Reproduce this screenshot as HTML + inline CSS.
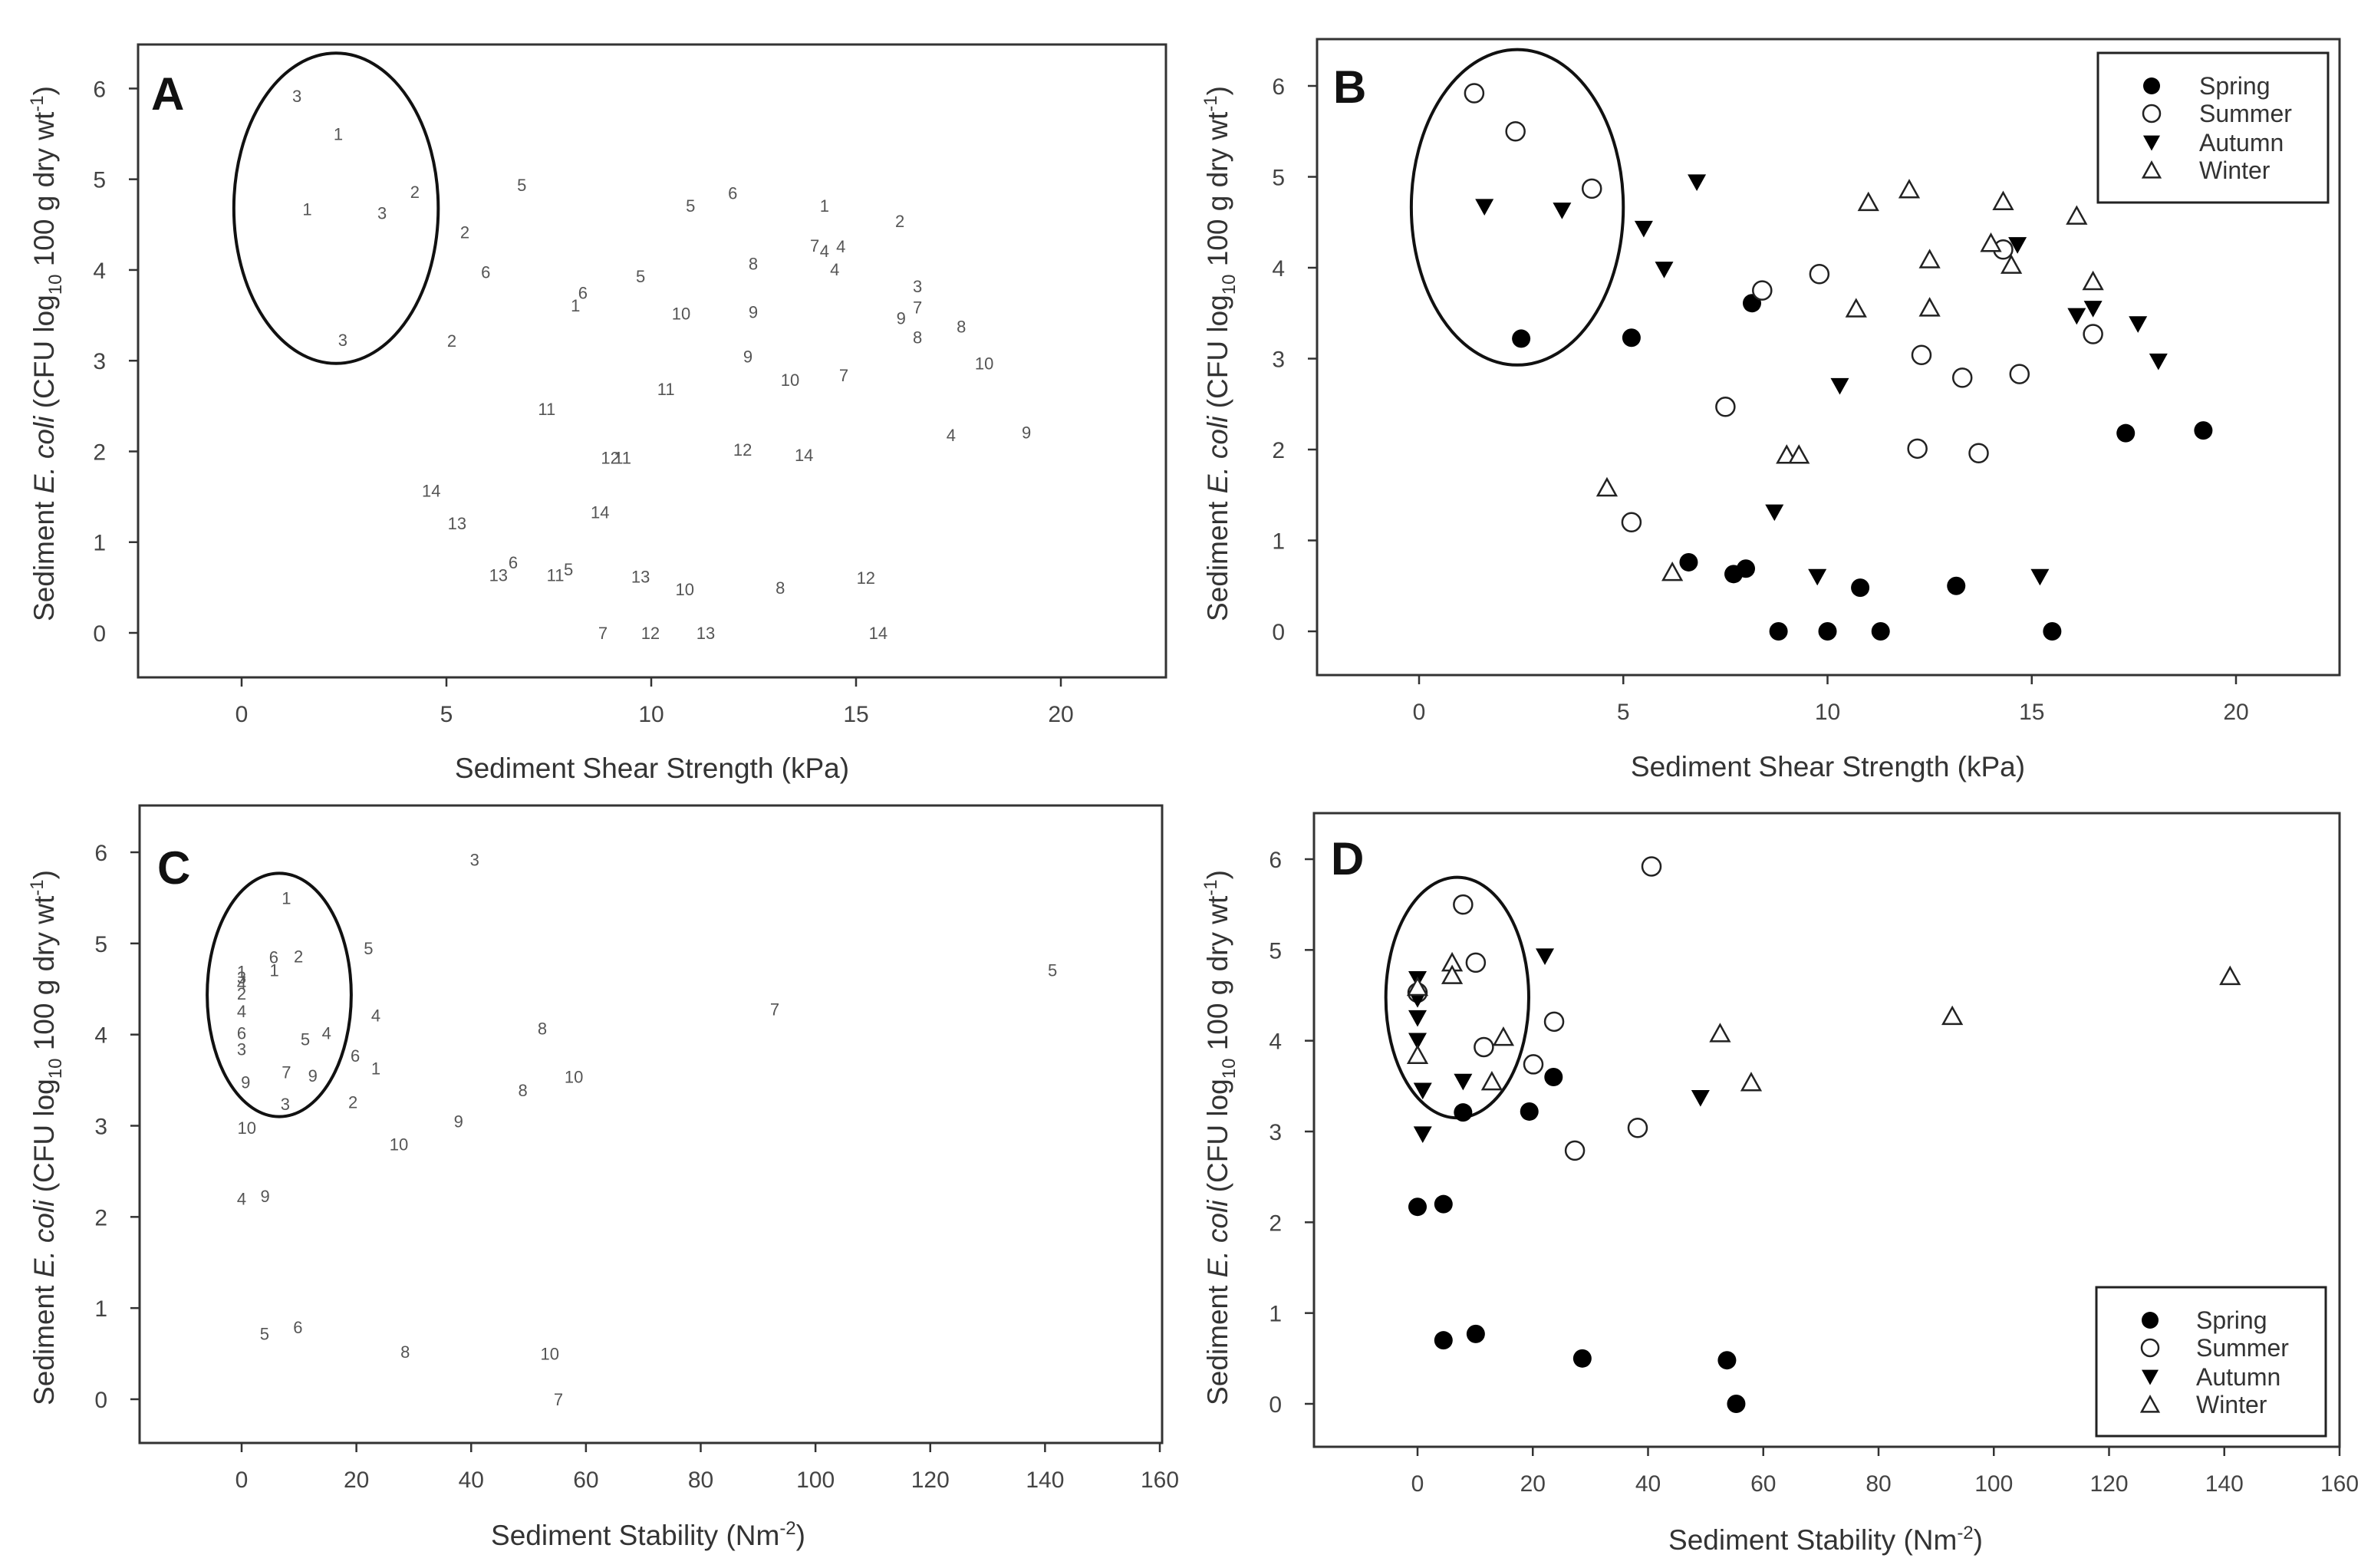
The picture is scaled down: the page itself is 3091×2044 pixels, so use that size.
<!DOCTYPE html>
<html><head><meta charset="utf-8"><style>
html,body{margin:0;padding:0;background:#fff}
svg{display:block;font-family:"Liberation Sans",sans-serif}
</style></head><body>
<svg id="fig" width="3091" height="2044" viewBox="0 0 3091 2044"></svg>
<script>
// Panel A: site-number labels vs shear strength
const aX=[1.35,2.36,4.23,1.6,3.43,6.84,5.45,5.96,9.74,8.33,8.15,10.73,2.47,5.13,10.96,11.99,14.23,16.07,13.99,14.23,14.63,12.49,14.48,12.49,16.5,16.5,16.1,16.5,17.57,18.13,12.36,13.39,14.7,10.36,7.45,17.32,19.16,12.23,13.73,9.0,9.3,4.63,5.26,8.75,6.27,6.63,7.66,7.98,9.74,10.82,13.15,15.24,8.82,9.98,11.33,15.54];
const aY=[5.92,5.5,4.86,4.67,4.63,4.94,4.42,3.98,3.93,3.75,3.61,3.52,3.23,3.22,4.71,4.85,4.71,4.54,4.27,4.21,4.26,4.07,4.01,3.54,3.82,3.59,3.47,3.26,3.38,2.97,3.05,2.79,2.84,2.69,2.47,2.18,2.21,2.02,1.96,1.93,1.93,1.57,1.21,1.33,0.64,0.78,0.64,0.70,0.62,0.48,0.50,0.61,0,0,0,0];
const aL=["3","1","2","1","3","5","2","6","5","6","1","10","3","2","5","6","1","2","7","4","4","8","4","9","3","7","9","8","8","10","9","10","7","11","11","4","9","12","14","12","11","14","13","14","13","6","11","5","13","10","8","12","7","12","13","14"];
// Panel B: seasons vs shear strength
const bSpringX=[2.5,5.2,8.15,6.6,7.7,8.0,10.8,13.15,8.8,10.0,11.3,15.5,17.3,19.2];
const bSpringY=[3.22,3.23,3.61,0.76,0.63,0.69,0.48,0.50,0,0,0,0,2.18,2.21];
const bSummerX=[1.35,2.36,4.23,8.4,9.8,12.3,13.3,14.7,16.5,14.3,7.5,12.2,13.7,5.2];
const bSummerY=[5.92,5.5,4.87,3.75,3.93,3.04,2.79,2.83,3.27,4.2,2.47,2.01,1.96,1.2];
const bAutumnX=[1.6,3.5,5.5,6.0,6.8,10.3,8.7,9.75,15.2,14.65,16.1,16.5,17.6,18.1];
const bAutumnY=[4.67,4.63,4.43,3.98,4.94,2.7,1.31,0.6,0.6,4.25,3.47,3.55,3.38,2.97];
const bWinterX=[4.6,6.2,9.0,9.3,10.7,11.0,12.0,12.5,12.5,14.0,14.3,14.5,16.1,16.5];
const bWinterY=[1.58,0.65,1.94,1.94,3.55,4.72,4.86,4.09,3.56,4.27,4.73,4.03,4.57,3.85];
// Panel C: labels vs stability
const cX=[40.6,7.8,5.6,9.9,5.7,22.1,0,0,0,0,0,23.4,0,0,11.1,14.8,19.8,23.4,7.8,12.4,0.7,7.6,19.4,0.9,27.4,37.8,49,52.4,57.9,92.9,141.3,0,4.1,4,9.8,28.5,53.7,55.2];
const cY=[5.92,5.5,4.85,4.86,4.71,4.95,4.69,4.63,4.56,4.45,4.26,4.21,4.02,3.84,3.95,4.02,3.77,3.63,3.59,3.55,3.48,3.24,3.26,2.98,2.8,3.05,3.39,4.07,3.54,4.28,4.71,2.2,2.23,0.72,0.79,0.52,0.5,0];
const cL=["3","1","6","2","1","5","1","3","4","2","4","4","6","3","5","4","6","1","7","9","9","3","2","10","10","9","8","8","10","7","5","4","9","5","6","8","10","7"];
// Panel D: seasons vs stability
const dSpringX=[7.9,19.4,23.6,0,4.5,4.5,10.1,28.6,53.7,55.3];
const dSpringY=[3.21,3.22,3.6,2.17,2.2,0.7,0.77,0.5,0.48,0];
const dSummerX=[40.6,7.9,10.1,23.7,11.5,20.1,38.2,27.3,0];
const dSummerY=[5.92,5.5,4.86,4.21,3.93,3.74,3.04,2.79,4.53];
const dAutumnX=[0,0,0,0,0.9,0.9,7.9,22.1,49.1];
const dAutumnY=[4.68,4.46,4.25,4.0,3.45,2.97,3.55,4.93,3.37];
const dWinterX=[0,0,6,6,14.9,12.9,52.5,57.9,92.8,141];
const dWinterY=[4.59,3.84,4.86,4.72,4.04,3.55,4.08,3.54,4.27,4.71];
const shearTicks=[0,5,10,15,20];
const stabTicks=[0,20,40,60,80,100,120,140,160];
const yTicks=[0,1,2,3,4,5,6];
const seasons=["Spring","Summer","Autumn","Winter"];

const NS="http://www.w3.org/2000/svg";
const svg=document.getElementById('fig');
function el(tag,attrs,parent,text){const e=document.createElementNS(NS,tag);for(const k in attrs)e.setAttribute(k,attrs[k]);if(text!==undefined)e.textContent=text;(parent||svg).appendChild(e);return e;}

function panel(p){
  const g=el('g',{});
  
  
  const sx=v=>p.x0+(v-p.xa)*(p.x1-p.x0)/(p.xb-p.xa);
  const sy=v=>p.y0-(v)*(p.y0-p.y6)/6;
  p.sx=sx;p.sy=sy;
  const fr=el('rect',{x:p.L,y:p.T,width:p.R-p.L,height:p.B-p.T,fill:'none',stroke:'#333','stroke-width':3},g);
  
  
  p.xt.forEach(t=>{
    const x=sx(t);
    el('line',{x1:x,y1:p.B,x2:x,y2:p.B+12,stroke:'#333','stroke-width':2.5},g);
    const tl=el('text',{x:x,y:p.B+58,'font-size':30,fill:'#444','text-anchor':'middle'},g,String(t));
    
    
  });
  yTicks.forEach(t=>{
    const y=sy(t);
    el('line',{x1:p.L-12,y1:y,x2:p.L,y2:y,stroke:'#333','stroke-width':2.5},g);
    const tl=el('text',{x:p.L-42,y:y+11,'font-size':30,fill:'#444','text-anchor':'end'},g,String(t));
    
    
  });
  const xt=el('text',{x:p.xtx,y:p.xty,'font-size':37,fill:'#333','text-anchor':'middle'},g);
  
  
  if(p.stab){xt.textContent='Sediment Stability (Nm';el('tspan',{'font-size':24,dy:-14},xt,'-2');el('tspan',{dy:14},xt,')');}
  else xt.textContent='Sediment Shear Strength (kPa)';
  const yt=el('text',{transform:`translate(${p.ytx},${p.yty}) rotate(-90)`,'font-size':37,fill:'#333','text-anchor':'middle'},g);
  
  
  yt.appendChild(document.createTextNode('Sediment '));
  el('tspan',{'font-style':'italic'},yt,'E. coli');
  yt.appendChild(document.createTextNode(' (CFU log'));
  el('tspan',{'font-size':24,dy:10},yt,'10');
  el('tspan',{dy:-10},yt,' 100 g dry wt');
  el('tspan',{'font-size':24,dy:-14},yt,'-1');
  el('tspan',{dy:14},yt,')');
  const lt=el('text',{x:p.lx,y:p.ly,'font-size':60,'font-weight':'bold',fill:'#111'},g,p.id);
  
  
  const e=p.ell;
  const ce=el('ellipse',{cx:(sx(e[0])+sx(e[1]))/2,cy:(sy(e[2])+sy(e[3]))/2,rx:(sx(e[1])-sx(e[0]))/2,ry:(sy(e[3])-sy(e[2]))/2,fill:'none',stroke:'#111','stroke-width':4},g);
  
  
  return g;
}
function marker(g,kind,x,y,s){
  s=s||12;let m;
  if(kind===0)m=el('circle',{cx:x,cy:y,r:s,fill:'#000'},g);
  else if(kind===1)m=el('circle',{cx:x,cy:y,r:s,fill:'#fff',stroke:'#222','stroke-width':2.5},g);
  else if(kind===2)m=el('polygon',{points:`${x-s},${y-s*0.85} ${x+s},${y-s*0.85} ${x},${y+s*0.95}`,fill:'#000'},g);
  else m=el('polygon',{points:`${x-s},${y+s*0.85} ${x+s},${y+s*0.85} ${x},${y-s*0.95}`,fill:'#fff',stroke:'#222','stroke-width':2.5},g);
  return m;
}
function labels(p,g,X,Y,L){
  X.forEach((v,i)=>{
    const t=el('text',{x:p.sx(v),y:p.sy(Y[i])+8,'font-size':22,fill:'#555','text-anchor':'middle'},g,L[i]);
    
    
  });
}
function seasonPts(p,g,sets){
  sets.forEach((s,k)=>{
    s[0].forEach((v,i)=>{
      const m=marker(g,k,p.sx(v),p.sy(s[1][i]));
      
      
    });
  });
}
function legend(g,bx,by,bw,bh,mx,tx,rows){
  const r=el('rect',{x:bx,y:by,width:bw,height:bh,fill:'#fff',stroke:'#222','stroke-width':3},g);
  
  
  seasons.forEach((s,k)=>{
    const m=marker(g,k,mx,rows[k],11);
    
    
    const t=el('text',{x:tx,y:rows[k]+11,'font-size':32,fill:'#333'},g,s);
    
    
  });
}
const A={id:'A',L:180,R:1520,T:58,B:883,x0:315,x1:1383,xa:0,xb:20,y0:825,y6:115.4,xt:shearTicks,xtx:850,xty:1014,ytx:70,yty:461,lx:197,ly:143,ell:[-0.19,4.8,6.39,2.97]};
const B={id:'B',L:1717,R:3050,T:51,B:880,x0:1850,x1:2915,xa:0,xb:20,y0:823,y6:112,xt:shearTicks,xtx:2383,xty:1012,ytx:1600,yty:461,lx:1738,ly:134,ell:[-0.19,5.0,6.4,2.93]};
const C={id:'C',L:182,R:1515,T:1050,B:1881,x0:315,x1:1512,xa:0,xb:160,y0:1824,y6:1111,xt:stabTicks,xtx:845,xty:2014,ytx:70,yty:1483,lx:205,ly:1152,ell:[-6,19.1,5.77,3.1],stab:true};
const D={id:'D',L:1713,R:3050,T:1060,B:1886,x0:1848,x1:3050,xa:0,xb:160,y0:1830,y6:1120,xt:stabTicks,xtx:2380,xty:2020,ytx:1600,yty:1483,lx:1735,ly:1140,ell:[-5.5,19.3,5.8,3.15],stab:true};
const gA=panel(A);labels(A,gA,aX,aY,aL);
const gB=panel(B);seasonPts(B,gB,[[bSpringX,bSpringY],[bSummerX,bSummerY],[bAutumnX,bAutumnY],[bWinterX,bWinterY]]);
legend(gB,2735,69,300,195,2805,2867,[112,148,186,222]);
const gC=panel(C);labels(C,gC,cX,cY,cL);
const gD=panel(D);seasonPts(D,gD,[[dSpringX,dSpringY],[dSummerX,dSummerY],[dAutumnX,dAutumnY],[dWinterX,dWinterY]]);
legend(gD,2733,1678,299,194,2803,2863,[1721,1757,1795,1831]);
</script>
</body></html>
